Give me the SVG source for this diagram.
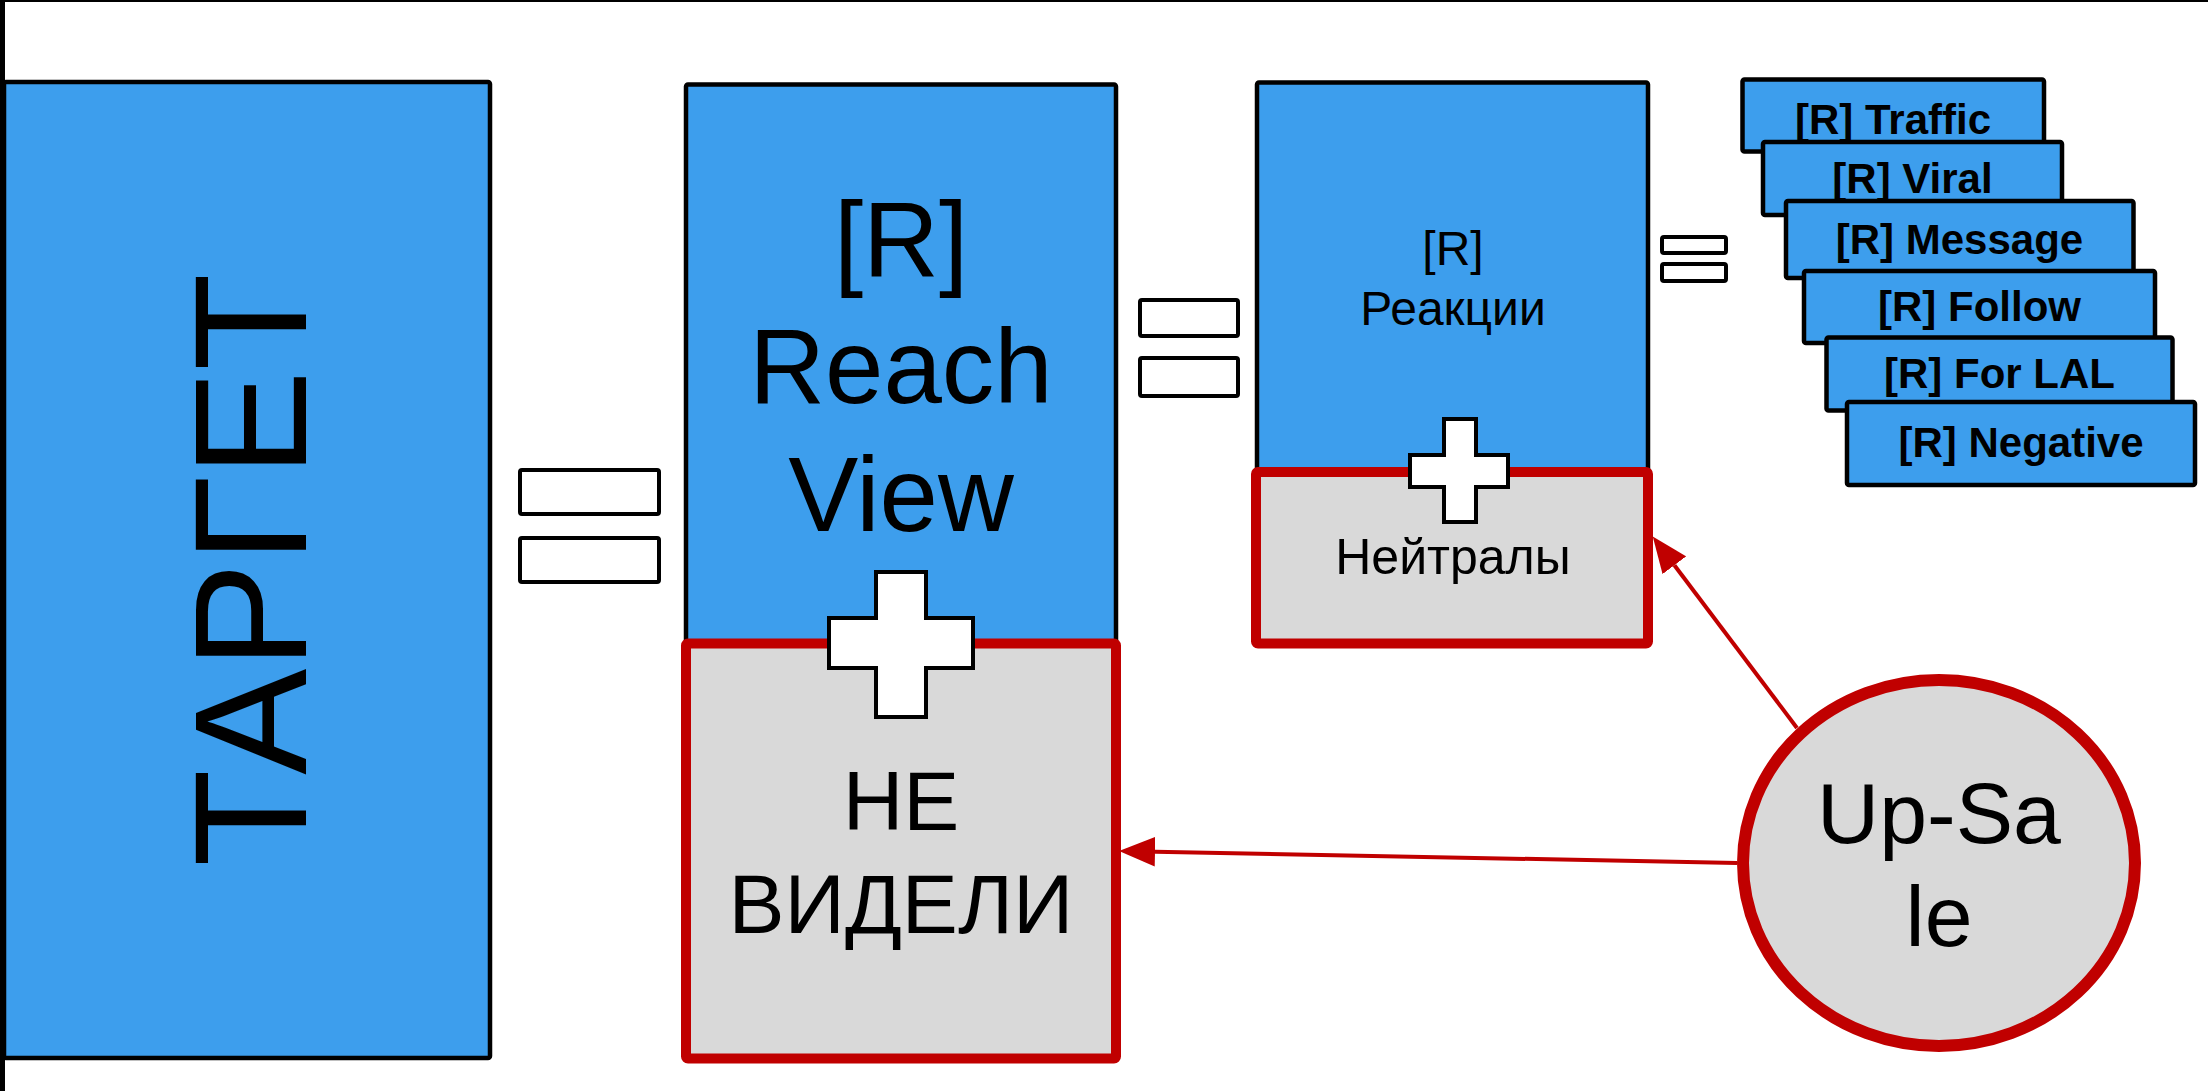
<svg xmlns="http://www.w3.org/2000/svg" width="2208" height="1091" viewBox="0 0 2208 1091">
<style>
.bg{fill:#ffffff}
.blue{fill:#3d9eed;stroke:#000;stroke-width:4.5;stroke-linejoin:round}
.gray{fill:#d9d9d9;stroke:#c00000;stroke-width:10;stroke-linejoin:round}
.eq{fill:#fff;stroke:#000;stroke-width:4;stroke-linejoin:round}
.cross{fill:#fff;stroke:#000;stroke-width:4;stroke-linejoin:miter}
.t{font-family:"Liberation Sans",Arial,sans-serif;fill:#000;text-anchor:middle}
.b{font-weight:bold;font-size:42px}
.conn{stroke:#c00000;stroke-width:4;fill:none}
</style>
<defs>
<marker id="ah" markerUnits="userSpaceOnUse" markerWidth="36" markerHeight="30" viewBox="0 0 34 28" refX="0" refY="14" orient="auto">
<path d="M0,0 L34,14 L0,28 Z" fill="#c00000"/>
</marker>
</defs>
<rect class="bg" x="0" y="0" width="2208" height="1091"/>
<line x1="0" y1="1" x2="2208" y2="1" stroke="#000" stroke-width="2"/>
<line x1="2.5" y1="0" x2="2.5" y2="1091" stroke="#000" stroke-width="5"/>

<g id="target">
<rect class="blue" x="4" y="82" width="486" height="976" rx="2"/>
<text class="t" font-size="159" transform="translate(306,570) rotate(-90)">ТАРГЕТ</text>
</g>

<g id="eq1">
<rect class="eq" x="520" y="470" width="139" height="44" rx="2"/>
<rect class="eq" x="520" y="538" width="139" height="44" rx="2"/>
</g>

<g id="reach">
<rect class="blue" x="686" y="84.5" width="430" height="560" rx="2"/>
<text class="t" font-size="105" x="901" y="276">[R]</text>
<text class="t" font-size="105" x="901" y="403">Reach</text>
<text class="t" font-size="105" x="901" y="531">View</text>
</g>

<g id="not-seen">
<rect class="gray" x="686" y="643.5" width="430" height="415" rx="2"/>
<text class="t" font-size="84" x="901" y="830">НЕ</text>
<text class="t" font-size="84" x="901" y="933">ВИДЕЛИ</text>
</g>

<g id="plus1">
<path class="cross" d="M876,572 H926 V618 H973 V668 H926 V717 H876 V668 H829 V618 H876 Z"/>
</g>

<g id="eq2">
<rect class="eq" x="1140" y="300" width="98" height="36" rx="2"/>
<rect class="eq" x="1140" y="358" width="98" height="38" rx="2"/>
</g>

<g id="reactions">
<rect class="blue" x="1257" y="82.5" width="391" height="392" rx="2"/>
<text class="t" font-size="48" x="1453" y="265">[R]</text>
<text class="t" font-size="48" x="1453" y="324.5">Реакции</text>
</g>

<g id="neutrals">
<rect class="gray" x="1256" y="472" width="392" height="171.5" rx="2"/>
<text class="t" font-size="50" x="1453" y="574">Нейтралы</text>
</g>

<g id="plus2">
<path class="cross" d="M1444,419 H1476 V455 H1508 V487 H1476 V522 H1444 V487 H1410 V455 H1444 Z"/>
</g>

<g id="eq3">
<rect class="eq" x="1662" y="237" width="64" height="16" rx="2"/>
<rect class="eq" x="1662" y="264" width="64" height="17" rx="2"/>
</g>

<g id="traffic">
<rect class="blue" x="1742.5" y="79.5" width="301.5" height="72" rx="2"/>
<text class="t b" x="1893" y="134">[R] Traffic</text>
</g>
<g id="viral">
<rect class="blue" x="1763" y="142" width="299" height="73" rx="2"/>
<text class="t b" x="1912.5" y="193">[R] Viral</text>
</g>
<g id="message">
<rect class="blue" x="1786" y="201" width="347.5" height="77" rx="2"/>
<text class="t b" x="1959.5" y="254">[R] Message</text>
</g>
<g id="follow">
<rect class="blue" x="1804" y="271" width="351" height="72" rx="2"/>
<text class="t b" x="1979.5" y="320.5">[R] Follow</text>
</g>
<g id="forlal">
<rect class="blue" x="1826.5" y="337.5" width="346" height="73" rx="2"/>
<text class="t b" x="1999.5" y="388">[R] For LAL</text>
</g>
<g id="negative">
<rect class="blue" x="1847" y="402" width="348" height="83" rx="2"/>
<text class="t b" x="2021" y="456.5">[R] Negative</text>
</g>

<g id="upsale">
<ellipse cx="1939" cy="863" rx="196" ry="183" fill="#d9d9d9" stroke="#c00000" stroke-width="12"/>
<text class="t" font-size="86" x="1939" y="843">Up-Sa</text>
<text class="t" font-size="86" x="1939" y="946">le</text>
</g>

<g id="connectors">
<line class="conn" x1="1737" y1="863" x2="1155" y2="851.7" marker-end="url(#ah)"/>
<line class="conn" x1="1797" y1="728" x2="1674.4" y2="565.2" marker-end="url(#ah)"/>
</g>
</svg>
